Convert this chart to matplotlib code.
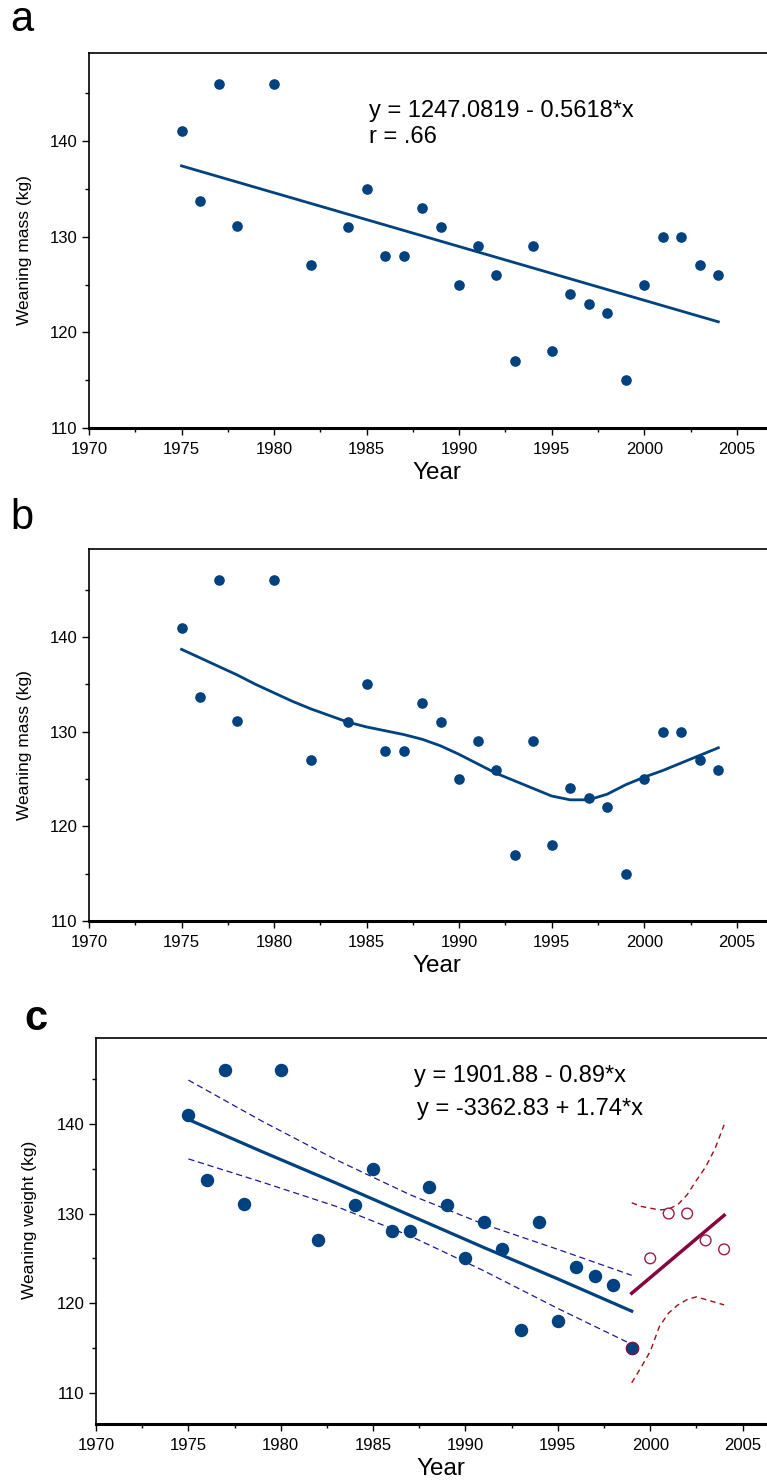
import numpy as np
import matplotlib
matplotlib.use("Agg")
import matplotlib.pyplot as plt
from matplotlib.ticker import MultipleLocator

plt.rcParams['font.family'] = ['Liberation Sans', 'DejaVu Sans']

# data
years = [1975, 1976, 1977, 1978, 1980, 1982, 1984, 1985, 1986, 1987, 1988, 1989,
         1990, 1991, 1992, 1993, 1994, 1995, 1996, 1997, 1998, 1999, 2000, 2001,
         2002, 2003, 2004]
mass = [141, 133.7, 146, 131.1, 146, 127, 131, 135, 128, 128, 133, 131,
        125, 129, 126, 117, 129, 118, 124, 123, 122, 115, 125, 130,
        130, 127, 126]

# panel a: linear fit end points
fit_a_x = [1975, 2004]
fit_a_y = [137.4, 121.1]

# panel b: smoothed curve
smooth_x = [1975, 1976, 1977, 1978, 1979, 1980, 1981, 1982, 1983, 1984, 1985,
            1986, 1987, 1988, 1989, 1990, 1991, 1992, 1993, 1994, 1995, 1996,
            1997, 1998, 1999, 2000, 2001, 2002, 2003, 2004]
smooth_y = [138.7, 137.8, 136.9, 136.0, 135.0, 134.1, 133.2, 132.4, 131.7, 131.0,
            130.5, 130.1, 129.7, 129.2, 128.5, 127.6, 126.6, 125.6, 124.8, 124.0,
            123.2, 122.8, 122.8, 123.4, 124.4, 125.2, 125.9, 126.7, 127.5, 128.3]

# panel c: two segment fits with confidence bands
early_x = [1975, 1979, 1983, 1987, 1991, 1995, 1999]
early_fit = [140.5, 136.9, 133.4, 129.8, 126.2, 122.7, 119.1]
early_up = [144.9, 140.3, 136.0, 132.1, 128.8, 126.0, 123.1]
early_lo = [136.1, 133.5, 130.8, 127.5, 123.6, 119.4, 115.4]

late_fit_x = [1999, 2004]
late_fit_y = [121.1, 129.8]
late_band_x = [1999.0, 1999.5, 2000.0, 2000.5, 2001.0, 2001.5, 2002.0, 2002.5,
               2003.0, 2003.5, 2004.0]
late_up = [131.2, 130.8, 130.6, 130.4, 130.5, 131.0, 132.1, 133.7, 135.2, 137.2, 139.9]
late_lo = [111.1, 112.8, 114.6, 117.4, 118.9, 119.8, 120.4, 120.7, 120.4, 120.1, 119.8]

early_years = [y for y in years if y <= 1999]
early_mass = mass[:len(early_years)]
late_years = [y for y in years if y >= 2000]
late_mass = mass[len(early_years):]

W, H = 767, 1481
BLUE = '#00427f'
fig = plt.figure(figsize=(W / 100, H / 100), dpi=100)


def box(left, top, bottom, right=785):
    return [left / W, 1 - bottom / H, (right - left) / W, (bottom - top) / H]


def style_axes(ax, x_right, ylo, yhi, xpad=1):
    ax.set_xlim(1970, x_right)
    ax.set_ylim(ylo, yhi)
    ax.xaxis.set_major_locator(MultipleLocator(5))
    ax.xaxis.set_minor_locator(MultipleLocator(2.5))
    ax.yaxis.set_major_locator(MultipleLocator(10))
    ax.yaxis.set_minor_locator(MultipleLocator(5))
    ax.set_yticks([110, 120, 130, 140])
    ax.tick_params(which='major', direction='out', length=5, width=1, labelsize=12)
    ax.tick_params(which='minor', direction='out', length=3, width=1)
    ax.tick_params(axis='x', pad=5)
    ax.spines['right'].set_visible(False)
    ax.spines['left'].set_linewidth(1.2)
    ax.spines['top'].set_linewidth(1.2)
    ax.spines['bottom'].set_linewidth(2.2)
    ax.set_xlabel('Year', fontsize=17.5, labelpad=xpad)


# ---- a ----
ax = fig.add_axes(box(89, 53, 428))
style_axes(ax, 1970 + (785 - 89) / 18.51, 110, 149.2, xpad=4)
ax.scatter(years, mass, s=44, color=BLUE, zorder=3)
ax.plot(fit_a_x, fit_a_y, color=BLUE, lw=2)
ax.text(1985.1, 143.1, 'y = 1247.0819 - 0.5618*x', fontsize=17, va='center')
ax.text(1985.1, 140.4, 'r = .66', fontsize=17, va='center')
fig.text(10 / W, 1 - 20 / H, 'a', fontsize=30, va='center', ha='left')
fig.text(25 / W, 1 - 250 / H, 'Weaning mass (kg)', rotation=90, fontsize=12.5,
         va='center', ha='center')

# ---- b ----
ax = fig.add_axes(box(89, 549, 921))
style_axes(ax, 1970 + (785 - 89) / 18.51, 110, 149.3, xpad=4)
ax.scatter(years, mass, s=44, color=BLUE, zorder=3)
ax.plot(smooth_x, smooth_y, color=BLUE, lw=2)
fig.text(10 / W, 1 - 518 / H, 'b', fontsize=30, va='center', ha='left')
fig.text(25 / W, 1 - 745 / H, 'Weaning mass (kg)', rotation=90, fontsize=12.5,
         va='center', ha='center')

# ---- c ----
ax = fig.add_axes(box(96, 1038, 1424))
style_axes(ax, 1970 + (785 - 96.5) / 18.46, 106.5, 149.6, xpad=4)
ax.plot(early_x, early_up, color='#1a1a96', lw=0.9, ls=(0, (5, 3)))
ax.plot(early_x, early_lo, color='#1a1a96', lw=0.9, ls=(0, (5, 3)))
ax.plot(early_x, early_fit, color=BLUE, lw=2.3)
ax.scatter(early_years, early_mass, s=75, color=BLUE, zorder=3)
ax.scatter([1999], [115], s=75, facecolor=BLUE, edgecolor='#8a1040', lw=1, zorder=4)
ax.plot(late_band_x, late_up, color='#9b1010', lw=1, ls=(0, (4, 3)))
ax.plot(late_band_x, late_lo, color='#9b1010', lw=1, ls=(0, (4, 3)))
ax.plot(late_fit_x, late_fit_y, color='#850540', lw=2.5)
ax.scatter(late_years, late_mass, s=60, facecolor='none', edgecolor='#9b1b4b',
           lw=1, zorder=3)
ax.text(1987.2, 145.4, 'y = 1901.88 - 0.89*x', fontsize=17, va='center')
ax.text(1987.35, 141.7, 'y = -3362.83 + 1.74*x', fontsize=17, va='center')
fig.text(24 / W, 1 - 1019 / H, 'c', fontsize=30, fontweight='bold', va='center', ha='left')
fig.text(30 / W, 1 - 1220 / H, 'Weaning weight (kg)', rotation=90, fontsize=12.5,
         va='center', ha='center')

fig.savefig('out.png', dpi=100)
